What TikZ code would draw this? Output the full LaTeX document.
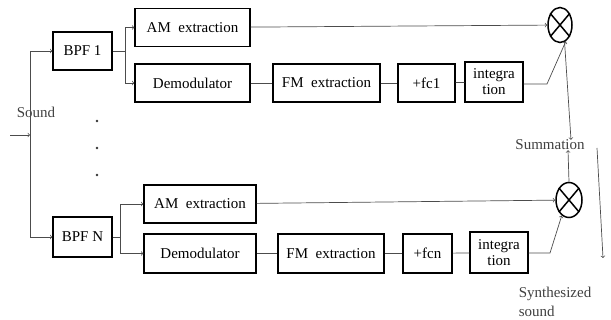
\documentclass[tikz,border=0pt]{standalone}
\usepackage{fontspec}
\setmainfont{Liberation Serif}
\usetikzlibrary{arrows}
\usetikzlibrary{shapes.geometric}

\tikzset{
  blk/.style={draw, line width=1.3pt, minimum height=38pt, inner sep=1pt, font=\fontsize{15}{16}\selectfont},
  mult/.style={ellipse, draw, line width=1.5pt, minimum width=24pt, minimum height=35pt, inner sep=0pt},
  wire/.style={draw=black!70, line width=0.7pt},
  lbl/.style={text=black!75, font=\fontsize{15}{18}\selectfont, inner sep=0pt}
}

\begin{document}
\begin{tikzpicture}[x=1pt, y=-1pt, >=to]
\useasboundingbox (0,0) rectangle (611,320);
% branch 1
\node [blk, minimum width=59pt] (bpf1) at (82.5,51) {BPF 1};
\node [blk, minimum width=115pt] (am1) at (192.5,27.5) {AM\ \ extraction};
\node [blk, minimum width=115pt] (dem1) at (192.5,83) {Demodulator};
\node [blk, minimum width=107pt] (fm1) at (326.5,83) {FM\ \ extraction};
\node [blk, minimum width=57pt] (fc1) at (426.5,83) {+fc1};
\node [blk, minimum width=58pt, minimum height=40pt, align=center] (int1) at (494,82) {integra\\tion};
\node [mult] (m1) at (560,25) {};
\draw[line width=1.5pt] (m1.50) -- (m1.230) (m1.130) -- (m1.310);
% branch N
\node [blk, minimum width=59pt, minimum height=40pt] (bpfN) at (82.5,237) {BPF N};
\node [blk, minimum width=112pt] (amN) at (200,204) {AM\ \ extraction};
\node [blk, minimum width=112pt, minimum height=39pt] (demN) at (200,253.5) {Demodulator};
\node [blk, minimum width=106pt, minimum height=39pt] (fmN) at (331,253.5) {FM\ \ extraction};
\node [blk, minimum width=49pt, minimum height=39pt] (fcN) at (427.5,253.5) {+fcn};
\node [blk, minimum width=58pt, minimum height=41pt, align=center] (intN) at (499,252.5) {integra\\tion};
\node [mult, minimum width=26pt] (mN) at (569,200) {};
\draw[line width=1.5pt] (mN.50) -- (mN.230) (mN.130) -- (mN.310);
% labels
\node [lbl] (snd) at (36,112) {Sound};
\node [lbl] (sum) at (550,145) {Summation};
\node [lbl, align=left, font=\fontsize{15}{19}\selectfont] (syn) at (555,302) {Synthesized\\sound};
\fill[black!80] (97,121) circle (1.3) (97,148) circle (1.3) (97,175) circle (1.3);
% input split
\coordinate (in) at (10,135);
\coordinate (s) at (30,135);
\draw[wire,->] (in) -- (s);
\draw[wire,->] (s) |- (bpf1);
\draw[wire,->] (s) |- (bpfN);
% connections 1
\coordinate (j1) at (125,51);
\draw[wire] (bpf1) -- (j1);
\draw[wire,->] (j1) |- (am1);
\draw[wire,->] (j1) |- (dem1);
\draw[wire] (dem1) -- (fm1);
\draw[wire] (fm1) -- (fc1);
\draw[wire] (fc1) -- (int1);
\draw[wire,->] (am1) -- (m1);
\coordinate (k1) at (547,84);
\draw[wire,->] (int1.east |- k1) -- (k1) -- (m1.-70);
\draw[wire,->] (m1.-75) -- ([xshift=21pt]sum.north);
% connections N
\coordinate (jN) at (120,237);
\draw[wire] (bpfN) -- (jN);
\draw[wire,->] (jN) |- (amN);
\draw[wire,->] (jN) |- (demN);
\draw[wire] (demN) -- (fmN);
\draw[wire] (fmN) -- (fcN);
\draw[wire] (fcN) -- (intN);
\draw[wire,->] (amN) -- (mN);
\coordinate (kN) at (550,253);
\draw[wire,->] (intN.east |- kN) -- (kN) -- (mN.-115);
\draw[wire,->] (mN.north) -- ([xshift=18pt]sum.south);
% output
\coordinate (o1) at (597,148);
\coordinate (o2) at (603,258);
\draw[wire,->] (o1) -- (o2);
\end{tikzpicture}
\end{document}
